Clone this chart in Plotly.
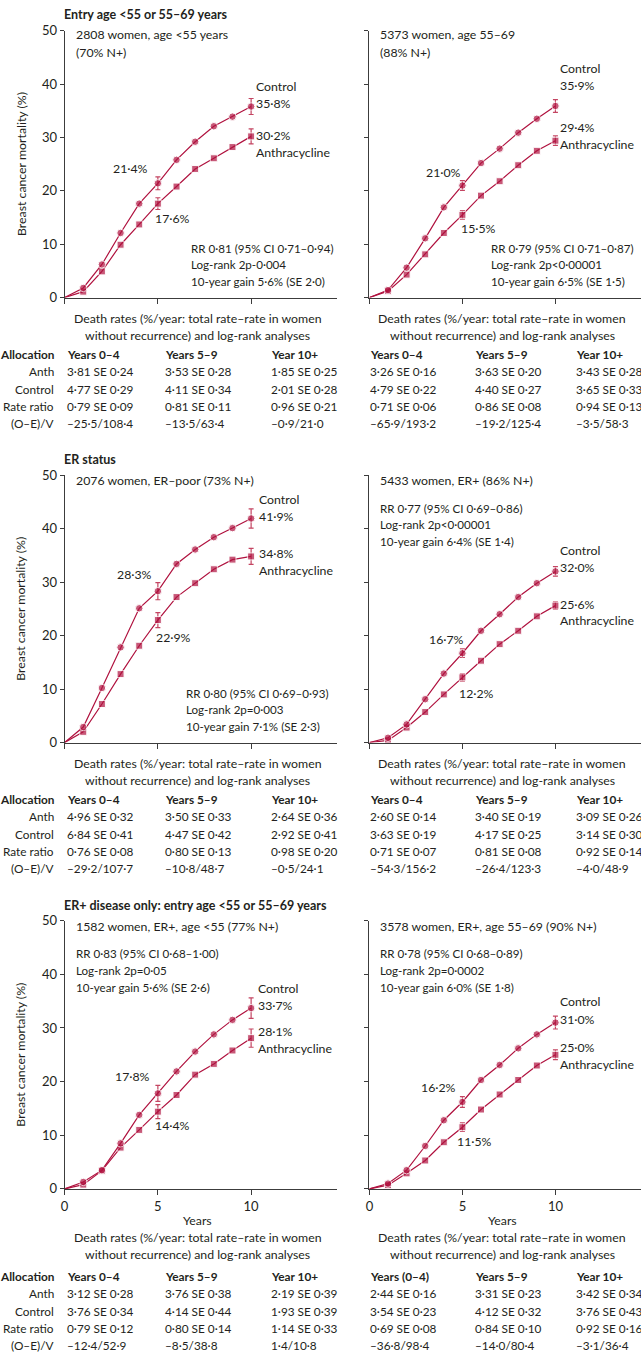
import plotly.graph_objects as go

W, H = 641, 1359
FONT = "Lato"
RED = "#B0123F"
ERR = "#C44562"
TXT = "#231F20"
AXC = "#3C3C3C"

# ---------------- data ----------------
years = [0, 1, 2, 3, 4, 5, 6, 7, 8, 9, 10]
err_years = [5, 10]

# Panel A: age <55
ctrl_a = [0, 1.8, 6.2, 12.1, 17.6, 21.4, 25.8, 29.2, 32.1, 33.9, 35.8]
anth_a = [0, 1.1, 4.9, 9.9, 13.7, 17.6, 20.8, 24.1, 26.1, 28.2, 30.2]
ctrl_a_err = [1.2, 1.5]
anth_a_err = [1.1, 1.4]

# Panel B: age 55-69
ctrl_b = [0, 1.4, 5.6, 11.1, 16.9, 21.0, 25.2, 27.9, 30.9, 33.5, 35.9]
anth_b = [0, 1.2, 4.3, 8.1, 12.1, 15.5, 19.1, 21.8, 24.8, 27.5, 29.4]
ctrl_b_err = [0.9, 1.2]
anth_b_err = [0.8, 0.9]

# Panel C: ER-poor
ctrl_c = [0, 2.9, 10.2, 17.8, 25.1, 28.3, 33.4, 36.1, 38.4, 40.1, 41.9]
anth_c = [0, 2.0, 7.2, 12.8, 18.1, 22.9, 27.2, 29.8, 32.4, 34.2, 34.8]
ctrl_c_err = [1.6, 1.8]
anth_c_err = [1.4, 1.5]

# Panel D: ER+
ctrl_d = [0, 0.9, 3.4, 8.1, 12.9, 16.7, 20.9, 24.0, 27.2, 29.8, 32.0]
anth_d = [0, 0.4, 2.8, 5.7, 9.0, 12.2, 15.3, 18.4, 20.9, 23.6, 25.6]
ctrl_d_err = [0.8, 0.9]
anth_d_err = [0.7, 0.7]

# Panel E: ER+, age <55
ctrl_e = [0, 1.3, 3.5, 8.5, 13.8, 17.8, 21.9, 25.6, 28.8, 31.5, 33.7]
anth_e = [0, 0.8, 3.4, 7.7, 11.0, 14.4, 17.5, 21.3, 23.3, 25.8, 28.1]
ctrl_e_err = [1.5, 1.9]
anth_e_err = [1.3, 1.7]

# Panel F: ER+, age 55-69
ctrl_f = [0, 1.0, 3.5, 8.0, 12.8, 16.2, 20.3, 23.1, 26.2, 28.8, 31.0]
anth_f = [0, 0.7, 2.9, 5.3, 8.7, 11.5, 14.8, 17.6, 20.3, 23.0, 25.0]
ctrl_f_err = [1.0, 1.2]
anth_f_err = [0.8, 0.9]

section_titles = ["Entry age <55 or 55–69 years", "ER status",
                  "ER+ disease only: entry age <55 or 55–69 years"]

head_a = ["2808 women, age <55 years", "(70% N+)"]
head_b = ["5373 women, age 55–69", "(88% N+)"]
head_c = ["2076 women, ER–poor (73% N+)"]
head_d = ["5433 women, ER+ (86% N+)"]
head_e = ["1582 women, ER+, age <55 (77% N+)"]
head_f = ["3578 women, ER+, age 55–69 (90% N+)"]

stats_a = ["RR 0·81 (95% CI 0·71–0·94)", "Log-rank 2p-0·004", "10-year gain 5·6% (SE 2·0)"]
stats_b = ["RR 0·79 (95% CI 0·71–0·87)", "Log-rank 2p<0·00001", "10-year gain 6·5% (SE 1·5)"]
stats_c = ["RR 0·80 (95% CI 0·69–0·93)", "Log-rank 2p=0·003", "10-year gain 7·1% (SE 2·3)"]
stats_d = ["RR 0·77 (95% CI 0·69–0·86)", "Log-rank 2p<0·00001", "10-year gain 6·4% (SE 1·4)"]
stats_e = ["RR 0·83 (95% CI 0·68–1·00)", "Log-rank 2p=0·05", "10-year gain 5·6% (SE 2·6)"]
stats_f = ["RR 0·78 (95% CI 0·68–0·89)", "Log-rank 2p=0·0002", "10-year gain 6·0% (SE 1·8)"]

table_rows = ["Anth", "Control", "Rate ratio", "(O–E)/V"]
cols_std = ["Years 0–4", "Years 5–9", "Year 10+"]
cols_f = ["Years (0–4)", "Years 5–9", "Year 10+"]

tab_a = [["3·81 SE 0·24", "3·53 SE 0·28", "1·85 SE 0·25"],
         ["4·77 SE 0·29", "4·11 SE 0·34", "2·01 SE 0·28"],
         ["0·79 SE 0·09", "0·81 SE 0·11", "0·96 SE 0·21"],
         ["–25·5/108·4", "–13·5/63·4", "–0·9/21·0"]]
tab_b = [["3·26 SE 0·16", "3·63 SE 0·20", "3·43 SE 0·28"],
         ["4·79 SE 0·22", "4·40 SE 0·27", "3·65 SE 0·33"],
         ["0·71 SE 0·06", "0·86 SE 0·08", "0·94 SE 0·13"],
         ["–65·9/193·2", "–19·2/125·4", "–3·5/58·3"]]
tab_c = [["4·96 SE 0·32", "3·50 SE 0·33", "2·64 SE 0·36"],
         ["6·84 SE 0·41", "4·47 SE 0·42", "2·92 SE 0·41"],
         ["0·76 SE 0·08", "0·80 SE 0·13", "0·98 SE 0·20"],
         ["–29·2/107·7", "–10·8/48·7", "–0·5/24·1"]]
tab_d = [["2·60 SE 0·14", "3·40 SE 0·19", "3·09 SE 0·26"],
         ["3·63 SE 0·19", "4·17 SE 0·25", "3·14 SE 0·30"],
         ["0·71 SE 0·07", "0·81 SE 0·08", "0·92 SE 0·14"],
         ["–54·3/156·2", "–26·4/123·3", "–4·0/48·9"]]
tab_e = [["3·12 SE 0·28", "3·76 SE 0·38", "2·19 SE 0·39"],
         ["3·76 SE 0·34", "4·14 SE 0·44", "1·93 SE 0·39"],
         ["0·79 SE 0·12", "0·80 SE 0·14", "1·14 SE 0·33"],
         ["–12·4/52·9", "–8·5/38·8", "1·4/10·8"]]
tab_f = [["2·44 SE 0·16", "3·31 SE 0·23", "3·42 SE 0·34"],
         ["3·54 SE 0·23", "4·12 SE 0·32", "3·76 SE 0·43"],
         ["0·69 SE 0·08", "0·84 SE 0·10", "0·92 SE 0·16"],
         ["–36·8/98·4", "–14·0/80·4", "–3·1/36·4"]]

death_rate_title = ["Death rates (%/year: total rate–rate in women",
                    "without recurrence) and log-rank analyses"]

# ---------------- geometry (pixels) ----------------
XDOM = [(61, 335), (367.7, 641)]
YDOM = [(23, 293), (472.7, 743.3), (923.5, 1195)]


def px(x):
    return x / W


def py(y):
    return 1 - y / H


def fmt(v):
    return f"{v:.1f}%".replace(".", "·")


panels = [
    dict(r=0, c=0, ctrl=ctrl_a, anth=anth_a, ce=ctrl_a_err, ae=anth_a_err, head=head_a, stats=stats_a,
         tab=tab_a, cols=cols_std,
         head_pos=(74, 27), stats_pos=(190, 243), end_pos=(256, 79, 129), c5=(112, 162), a5=(154, 213)),
    dict(r=0, c=1, ctrl=ctrl_b, anth=anth_b, ce=ctrl_b_err, ae=anth_b_err, head=head_b, stats=stats_b,
         tab=tab_b, cols=cols_std,
         head_pos=(380, 27), stats_pos=(491.7, 243), end_pos=(561.7, 61, 121), c5=(427, 166), a5=(461.7, 223)),
    dict(r=1, c=0, ctrl=ctrl_c, anth=anth_c, ce=ctrl_c_err, ae=anth_c_err, head=head_c, stats=stats_c,
         tab=tab_c, cols=cols_std,
         head_pos=(74, 477.7), stats_pos=(185, 693.3), end_pos=(259, 497, 552), c5=(116, 573), a5=(155, 636.7)),
    dict(r=1, c=1, ctrl=ctrl_d, anth=anth_d, ce=ctrl_d_err, ae=anth_d_err, head=head_d, stats=stats_d,
         tab=tab_d, cols=cols_std,
         head_pos=(380, 478.3), stats_pos=(380, 506), end_pos=(561.7, 549, 603.3), c5=(429.3, 639), a5=(460, 694)),
    dict(r=2, c=0, ctrl=ctrl_e, anth=anth_e, ce=ctrl_e_err, ae=anth_e_err, head=head_e, stats=stats_e,
         tab=tab_e, cols=cols_std,
         head_pos=(74, 929.3), stats_pos=(74, 956.7), end_pos=(258, 992.3, 1035.7), c5=(114, 1081), a5=(154, 1130.7)),
    dict(r=2, c=1, ctrl=ctrl_f, anth=anth_f, ce=ctrl_f_err, ae=anth_f_err, head=head_f, stats=stats_f,
         tab=tab_f, cols=cols_f,
         head_pos=(380, 929.3), stats_pos=(380, 956.7), end_pos=(561.7, 1005.7, 1051.7), c5=(421.7, 1092.7), a5=(458.3, 1146.7)),
]

fig = go.Figure()
annotations = []
SHIFT = {"left": -4, "center": -3, "right": -2}


def add_text(text, x, y, xanchor="left", size=12, bold=False, color=TXT):
    annotations.append(dict(
        text=f"<b>{text}</b>" if bold else text,
        x=px(x), y=py(y), xref="paper", yref="paper", xshift=SHIFT[xanchor],
        xanchor=xanchor, yanchor="middle", showarrow=False,
        font=dict(family=FONT, size=size, color=color)))


layout_axes = {}
for i, p in enumerate(panels):
    n = i + 1
    xs = "" if n == 1 else str(n)
    xa, ya = "x" + xs, "y" + xs
    x0, x1 = XDOM[p["c"]]
    y0, y1 = YDOM[p["r"]]
    bottom = p["r"] == 2
    left = p["c"] == 0
    layout_axes["xaxis" + xs] = dict(
        domain=[px(x0), px(x1)], anchor=ya, range=[0, 14.6],
        tickvals=[0, 5, 10], showticklabels=bottom, ticks="outside", ticklen=5,
        tickcolor=AXC, linecolor=AXC, linewidth=1, showline=True, showgrid=False,
        zeroline=False, tickfont=dict(family=FONT, size=13, color=TXT))
    layout_axes["yaxis" + xs] = dict(
        domain=[py(y1), py(y0)], anchor=xa, range=[0, 50],
        tickvals=[0, 10, 20, 30, 40, 50], showticklabels=left, ticks="outside", ticklen=4,
        tickcolor=AXC, linecolor=AXC, linewidth=1, showline=True, showgrid=False,
        zeroline=False, tickfont=dict(family=FONT, size=13, color=TXT))

    ctrl_err_y = [p["ctrl"][years.index(yv)] for yv in err_years]
    anth_err_y = [p["anth"][years.index(yv)] for yv in err_years]
    # error bars
    fig.add_trace(go.Scatter(x=err_years, y=ctrl_err_y, mode="markers", xaxis=xa, yaxis=ya,
                             marker=dict(size=1, color="rgba(0,0,0,0)"), showlegend=False,
                             error_y=dict(type="data", array=p["ce"], color=ERR, thickness=1.2, width=2.5)))
    fig.add_trace(go.Scatter(x=err_years, y=anth_err_y, mode="markers", xaxis=xa, yaxis=ya,
                             marker=dict(size=1, color="rgba(0,0,0,0)"), showlegend=False,
                             error_y=dict(type="data", array=p["ae"], color=ERR, thickness=1.2, width=2.5)))
    fig.add_trace(go.Scatter(x=years, y=p["anth"], mode="lines+markers", xaxis=xa, yaxis=ya,
                             line=dict(color=RED, width=1.2),
                             marker=dict(symbol="square", size=[0] + [7] * (len(years) - 1), color=RED),
                             showlegend=False, name="Anthracycline"))
    fig.add_trace(go.Scatter(x=years, y=p["ctrl"], mode="lines+markers", xaxis=xa, yaxis=ya,
                             line=dict(color=RED, width=1.2),
                             marker=dict(symbol="circle", size=[0] + [7.5] * (len(years) - 1), color=RED),
                             showlegend=False, name="Control"))

    # annotations inside panel
    hx, hy = p["head_pos"]
    for k, t in enumerate(p["head"]):
        add_text(t, hx, hy + k * 18, size=12.3)
    sx, sy = p["stats_pos"]
    for k, t in enumerate(p["stats"]):
        add_text(t, sx, sy + k * 17, size=11.6)
    ex, ecy, eay = p["end_pos"]
    add_text("Control", ex, ecy, size=12.3)
    add_text(fmt(p["ctrl"][years.index(10)]), ex, ecy + 17.5, size=12.3)
    add_text(fmt(p["anth"][years.index(10)]), ex, eay, size=12.3)
    add_text("Anthracycline", ex, eay + 17, size=12.3)
    add_text(fmt(p["ctrl"][years.index(5)]), *p["c5"], size=12.3)
    add_text(fmt(p["anth"][years.index(5)]), *p["a5"], size=12.3)

    # table below
    base = y1
    extra = 28 if bottom else 0
    cx = (x0 + x1) / 2
    if bottom:
        add_text("Years", cx, base + 31.7, xanchor="center", size=12.3)
    add_text(death_rate_title[0], cx, base + 21.3 + extra, xanchor="center", size=12.3)
    add_text(death_rate_title[1], cx, base + 38 + extra, xanchor="center", size=12.3)
    hdr_y = base + 58 + extra + (3 if bottom else 0)
    col_x = [65, 164.3, 270.7] if left else [370, 475.7, 577.7]
    if left:
        add_text("Allocation", 54, hdr_y, xanchor="right", bold=True, size=11.8)
    for j, cname in enumerate(p["cols"]):
        add_text(cname, col_x[j], hdr_y, bold=True, size=11.8)
    for ri, rname in enumerate(table_rows):
        ry = hdr_y + (ri + 1) * 17.3
        if left:
            add_text(rname, 54, ry, xanchor="right", size=11.8)
        for j in range(3):
            add_text(p["tab"][ri][j], col_x[j], ry, size=11.8)

# section titles
for t, yv in zip(section_titles, [7, 456.7, 908.3]):
    add_text(t, 62, yv, bold=True, size=12.5)

# y-axis titles
for (y0, y1) in YDOM:
    annotations.append(dict(text="Breast cancer mortality (%)", x=px(20), y=py((y0 + y1) / 2),
                            xref="paper", yref="paper", textangle=-90, showarrow=False,
                            xanchor="center", yanchor="middle", xshift=-3,
                            font=dict(family=FONT, size=12.3, color=TXT)))

fig.update_layout(
    width=W, height=H, margin=dict(l=0, r=0, t=0, b=0),
    paper_bgcolor="white", plot_bgcolor="white",
    showlegend=False, annotations=annotations, **layout_axes)

fig.write_html("out.html",
               config={"displayModeBar": False},
               post_script="document.body.style.margin='0';"
                           "document.documentElement.style.overflow='hidden';")
